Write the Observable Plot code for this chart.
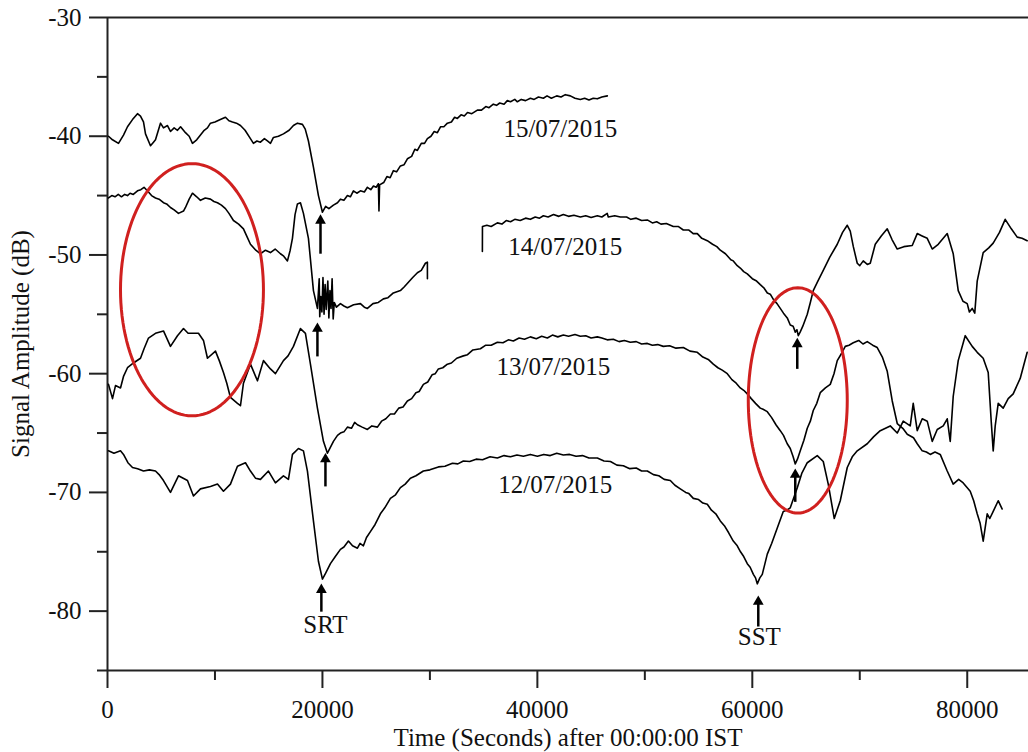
<!DOCTYPE html>
<html>
<head>
<meta charset="utf-8">
<script src="https://cdn.jsdelivr.net/npm/d3@7"></script>
<script src="https://cdn.jsdelivr.net/npm/@observablehq/plot@0.6"></script>
<style>
  html, body { margin: 0; padding: 0; background: #fff; }
</style>
</head>
<body>
<div id="chart"></div>
<script>
// ---- Data (time in seconds after 00:00:00 IST, amplitude in dB) ----
const series15 = [[93,-40.0],[465,-40.3],[1023,-40.6],[1488,-39.9],[1860,-39.2],[2326,-38.6],[2791,-38.1],[3070,-38.3],[3349,-38.8],[3535,-39.8],[4000,-40.8],[4279,-40.5],[4465,-40.3],[4930,-38.9],[5209,-39.3],[5581,-39.1],[5860,-39.6],[6200,-39.3],[6511,-39.5],[6800,-39.2],[7256,-39.7],[7600,-40.0],[7907,-40.6],[8300,-40.3],[8651,-39.9],[9000,-39.5],[9300,-39.3],[9581,-38.9],[10000,-38.8],[10500,-38.6],[10976,-38.4],[11300,-38.7],[11628,-38.8],[12000,-38.9],[12372,-39.1],[12800,-39.5],[13300,-40.2],[13581,-40.6],[13900,-40.4],[14232,-40.5],[14600,-40.2],[14883,-40.4],[15162,-40.6],[15441,-40.1],[15900,-40.0],[16372,-39.8],[16900,-39.5],[17300,-39.1],[17674,-38.9],[18139,-39.0],[18400,-39.4],[18697,-40.4],[19162,-42.6],[19627,-45.0],[20000,-46.4],[20300,-45.9],[20600,-46.1],[21023,-45.8],[21400,-45.6],[21674,-45.3],[22000,-45.4],[22325,-45.0],[22600,-45.1],[22883,-44.6],[23200,-44.8],[23534,-44.6],[23900,-44.7],[24185,-44.3],[24500,-44.5],[24744,-44.2],[25000,-44.3],[25208,-44.0],[25260,-46.3],[25320,-44.1],[25700,-43.9],[26000,-43.4],[26300,-43.5],[26604,-42.9],[26900,-43.0],[27255,-42.5],[27600,-42.4],[27906,-41.9],[28300,-41.7],[28600,-41.1],[28836,-41.2],[29200,-40.6],[29500,-40.6],[29766,-40.2],[30100,-40.0],[30400,-39.6],[30697,-39.7],[31000,-39.2],[31300,-39.2],[31627,-38.9],[32000,-38.8],[32300,-38.4],[32557,-38.5],[32900,-38.2],[33200,-38.3],[33500,-38.0],[33900,-38.1],[34417,-37.8],[34800,-37.8],[35200,-37.5],[35500,-37.6],[35900,-37.3],[36200,-37.4],[36500,-37.2],[36900,-37.3],[37200,-37.0],[37500,-37.1],[37900,-36.9],[38138,-37.1],[38500,-36.9],[38900,-37.0],[39348,-36.8],[39700,-36.9],[40100,-36.7],[40557,-36.8],[40900,-36.6],[41300,-36.8],[41800,-36.6],[42200,-36.7],[42600,-36.5],[43068,-36.6],[43500,-36.8],[43998,-36.9],[44400,-36.8],[44800,-36.95],[45200,-36.8],[45580,-36.85],[46000,-36.7],[46510,-36.6]];

const series14a = [[93,-45.2],[400,-45.0],[700,-45.1],[1000,-44.9],[1300,-45.1],[1600,-44.9],[1860,-45.0],[2100,-44.8],[2400,-44.9],[2791,-44.6],[3100,-44.5],[3400,-44.3],[3814,-44.7],[4100,-45.0],[4465,-45.2],[4800,-45.3],[5209,-45.6],[5500,-45.7],[5860,-46.0],[6200,-46.2],[6604,-46.5],[7070,-46.3],[7256,-46.0],[7600,-45.3],[7907,-44.8],[8300,-45.1],[8651,-45.4],[9100,-45.2],[9581,-45.3],[9900,-45.5],[10232,-45.6],[10600,-45.8],[10976,-46.1],[11300,-46.5],[11721,-47.1],[12200,-47.4],[12651,-47.8],[13000,-48.5],[13302,-49.1],[13800,-49.6],[14232,-49.9],[14700,-49.6],[15162,-49.8],[15600,-49.5],[16093,-49.9],[16400,-50.1],[16744,-50.5],[17000,-49.6],[17209,-48.6],[17450,-46.6],[17674,-45.7],[17953,-45.6],[18232,-46.5],[18697,-48.6],[19162,-53.0],[19534,-54.5],[19700,-52.0],[19750,-55.2],[19850,-53.5],[19950,-54.8],[20050,-51.9],[20150,-55.0],[20250,-52.5],[20350,-54.6],[20500,-52.2],[20600,-55.3],[20700,-53.0],[20800,-54.5],[20900,-52.0],[21000,-55.4],[21100,-54.0],[21300,-54.4],[21674,-54.1],[22000,-54.3],[22325,-54.45],[22900,-54.2],[23534,-54.1],[23900,-54.4],[24185,-54.5],[24700,-54.1],[25200,-54.0],[25674,-53.7],[26100,-53.6],[26600,-53.2],[27255,-53.0],[27600,-52.7],[28000,-52.3],[28400,-51.9],[28836,-51.5],[29200,-51.3],[29580,-50.7],[29766,-50.6],[29770,-52.0]];

const series14b = [[34883,-49.7],[34890,-47.6],[35300,-47.5],[35700,-47.6],[36278,-47.3],[36700,-47.4],[37100,-47.1],[37500,-47.2],[37900,-47.0],[38400,-47.1],[38900,-46.9],[39348,-47.0],[39800,-46.8],[40200,-46.9],[40557,-46.7],[41000,-46.8],[41500,-46.6],[42000,-46.75],[42417,-46.6],[42900,-46.75],[43400,-46.65],[44000,-46.8],[44500,-46.7],[45000,-46.85],[45580,-46.7],[46000,-46.8],[46500,-46.5],[46600,-46.8],[47200,-46.7],[47720,-46.8],[48300,-46.8],[48700,-47.0],[49200,-46.9],[49700,-47.1],[50231,-47.05],[50700,-47.3],[51100,-47.2],[51500,-47.4],[52000,-47.35],[52650,-47.6],[53100,-47.6],[53580,-47.9],[54100,-47.9],[54500,-48.2],[54881,-48.2],[55300,-48.6],[55812,-48.8],[56300,-49.1],[56700,-49.3],[57021,-49.6],[57500,-49.9],[58000,-50.4],[58230,-50.5],[58600,-50.9],[58882,-51.1],[59200,-51.4],[59533,-51.6],[60000,-52.0],[60400,-52.2],[60742,-52.5],[61100,-52.8],[61400,-53.2],[61672,-53.3],[62000,-53.8],[62300,-54.1],[62602,-54.5],[62900,-54.9],[63253,-55.3],[63532,-55.9],[63800,-56.0],[64000,-56.5],[64150,-56.3],[64277,-56.8],[64450,-56.5],[64700,-56.0],[65114,-55.0],[65400,-54.0],[65672,-53.0],[66100,-52.2],[66602,-51.3],[67200,-50.2],[67905,-49.1],[68400,-48.1],[68835,-47.5],[69114,-48.0],[69400,-49.3],[69765,-50.7],[70000,-50.9],[70323,-50.5],[70700,-50.8],[70975,-50.7],[71440,-49.1],[72000,-48.4],[72556,-47.8],[73000,-48.7],[73486,-49.5],[74100,-49.3],[74881,-49.2],[75346,-48.2],[75800,-48.4],[76277,-48.6],[76742,-49.5],[77300,-49.1],[78137,-48.2],[78696,-49.9],[79161,-53.0],[79600,-53.9],[79997,-54.1],[80200,-54.8],[80462,-54.5],[80700,-54.9],[80927,-52.2],[81485,-49.8],[82000,-49.4],[82416,-49.0],[83000,-48.1],[83532,-47.0],[84100,-47.8],[84648,-48.5],[85100,-48.6],[85578,-48.8]];

const series13 = [[93,-60.9],[465,-62.1],[744,-61.0],[1209,-61.2],[1500,-60.2],[1860,-59.5],[2418,-59.1],[3070,-58.7],[3400,-57.9],[3814,-57.0],[4465,-56.6],[5209,-56.4],[5860,-57.7],[6511,-56.8],[7070,-56.2],[7500,-56.6],[7907,-56.6],[8465,-56.6],[8930,-57.2],[9302,-58.7],[10046,-58.1],[10400,-58.9],[10790,-59.9],[11100,-60.8],[11441,-62.0],[12093,-62.5],[12372,-62.7],[12651,-60.8],[13302,-59.2],[13953,-60.6],[14511,-58.9],[15162,-59.6],[15627,-60.0],[16372,-58.9],[16800,-58.5],[17302,-57.7],[17953,-56.2],[18418,-56.6],[18883,-59.2],[19534,-62.9],[20093,-65.7],[20465,-66.7],[21023,-65.7],[21400,-65.2],[21674,-65.0],[22000,-64.9],[22325,-64.5],[22700,-64.6],[23000,-64.1],[23255,-64.3],[23700,-64.5],[24185,-64.7],[24600,-64.4],[25115,-64.5],[25500,-64.0],[25900,-63.8],[26325,-63.4],[26700,-63.4],[27100,-62.9],[27500,-62.8],[27906,-62.3],[28300,-62.1],[28700,-61.6],[29000,-61.5],[29394,-60.9],[29800,-60.7],[30200,-60.1],[30500,-60.0],[30790,-59.6],[31200,-59.5],[31627,-59.2],[32000,-59.1],[32500,-58.7],[33115,-58.5],[33500,-58.4],[34000,-58.0],[34697,-57.9],[35200,-57.6],[35700,-57.6],[36278,-57.35],[36800,-57.4],[37300,-57.15],[37766,-57.25],[38300,-57.0],[38800,-57.1],[39348,-56.9],[39900,-57.05],[40400,-56.85],[40929,-57.0],[41400,-56.75],[41900,-56.9],[42417,-56.75],[42900,-56.85],[43500,-56.7],[43998,-56.85],[44500,-56.8],[45000,-57.0],[45580,-56.9],[46000,-57.0],[46500,-57.15],[47068,-57.1],[47600,-57.3],[48100,-57.2],[48650,-57.35],[49200,-57.3],[49700,-57.5],[50231,-57.45],[50700,-57.6],[51200,-57.55],[51720,-57.7],[52300,-57.65],[52900,-57.85],[53580,-57.8],[54200,-58.1],[54881,-58.2],[55400,-58.6],[55900,-58.8],[56370,-59.2],[56800,-59.5],[57200,-59.7],[57672,-60.0],[58100,-60.5],[58500,-60.8],[58882,-61.2],[59200,-61.4],[59533,-61.7],[59900,-62.1],[60300,-62.5],[60742,-62.9],[61000,-63.0],[61393,-63.2],[61800,-63.7],[62200,-64.3],[62602,-64.8],[62900,-65.2],[63250,-65.9],[63532,-66.3],[63800,-67.0],[63997,-67.6],[64200,-67.2],[64463,-66.5],[64800,-65.6],[65114,-64.6],[65400,-64.0],[65672,-63.1],[66000,-62.5],[66323,-61.6],[66800,-61.2],[67253,-60.9],[67600,-60.0],[67905,-58.9],[68300,-58.3],[68649,-57.7],[69000,-57.6],[69393,-57.4],[69900,-57.2],[70300,-57.5],[70695,-57.3],[71200,-57.6],[71625,-57.8],[72100,-58.6],[72556,-59.8],[73021,-62.3],[73486,-64.2],[74000,-64.6],[74416,-65.1],[75000,-65.4],[75346,-65.9],[75812,-66.5],[76200,-66.6],[76556,-66.8],[77000,-66.6],[77486,-66.8],[78137,-68.2],[78696,-69.3],[79200,-68.9],[79625,-69.2],[80276,-69.9],[80600,-70.7],[80927,-71.8],[81200,-72.6],[81485,-74.1],[81858,-71.8],[82100,-72.2],[82416,-71.6],[82881,-70.7],[83253,-71.4]];

const series12 = [[93,-66.5],[600,-66.7],[1209,-66.5],[1488,-66.8],[1900,-67.5],[2326,-67.9],[2800,-68.0],[3349,-68.2],[3900,-68.1],[4465,-68.2],[4800,-68.5],[5209,-69.0],[5860,-70.0],[6604,-68.6],[7442,-69.0],[8000,-70.3],[8651,-69.7],[9581,-69.5],[10232,-69.3],[10790,-69.9],[11441,-69.3],[12093,-67.8],[12837,-67.5],[13300,-68.2],[13767,-68.8],[14232,-68.9],[14976,-68.2],[15627,-69.2],[16372,-68.6],[16837,-68.9],[17209,-66.8],[17767,-66.3],[18232,-66.5],[18604,-68.2],[19162,-72.4],[19627,-75.8],[20000,-77.3],[20300,-76.8],[20744,-76.0],[21200,-75.4],[21674,-74.8],[22000,-74.6],[22418,-74.1],[22800,-74.5],[23255,-74.7],[23500,-74.3],[23813,-74.5],[24100,-73.8],[24465,-73.3],[24900,-72.7],[25394,-71.8],[25800,-71.3],[26325,-70.5],[26800,-70.2],[27255,-69.6],[27700,-69.3],[28185,-68.8],[28700,-68.6],[29394,-68.2],[30000,-68.1],[30790,-67.85],[31400,-67.8],[32100,-67.55],[32600,-67.6],[33115,-67.35],[33700,-67.4],[34300,-67.2],[34900,-67.25],[35600,-67.0],[36278,-67.1],[36900,-66.9],[37500,-67.0],[38100,-66.85],[38700,-66.95],[39348,-66.8],[40000,-66.95],[40600,-66.8],[41200,-66.9],[41800,-66.7],[42417,-66.85],[43000,-66.8],[43600,-66.95],[44200,-66.9],[44800,-67.1],[45580,-67.1],[46200,-67.35],[46800,-67.4],[47400,-67.7],[47998,-67.75],[48600,-68.0],[49200,-67.95],[49700,-68.2],[50231,-68.2],[50800,-68.5],[51300,-68.6],[51800,-68.9],[52371,-69.0],[52800,-69.4],[53300,-69.7],[53800,-70.0],[54100,-70.1],[54510,-70.5],[55000,-70.6],[55400,-70.9],[55812,-71.0],[56200,-71.5],[56600,-71.8],[57021,-72.4],[57400,-72.8],[57800,-73.4],[58230,-74.1],[58600,-74.5],[58900,-75.0],[59200,-75.4],[59533,-76.0],[59800,-76.3],[60100,-76.9],[60300,-77.2],[60463,-77.7],[60700,-77.2],[60928,-76.9],[61393,-75.2],[61800,-74.3],[62323,-73.0],[62881,-71.6],[63200,-71.5],[63532,-71.3],[64184,-69.6],[64600,-68.4],[65114,-67.5],[66044,-66.9],[66602,-67.4],[67067,-69.3],[67626,-72.2],[68184,-70.7],[68835,-67.9],[69300,-67.0],[69765,-66.5],[70695,-65.9],[71300,-65.3],[71905,-64.8],[72835,-64.4],[73486,-65.0],[74044,-64.0],[74695,-64.4],[74974,-62.5],[75346,-64.8],[75812,-63.8],[76277,-64.0],[76742,-65.7],[77207,-64.7],[77765,-64.4],[78137,-63.8],[78417,-65.7],[78696,-61.9],[79161,-58.9],[79811,-56.8],[80462,-57.7],[80927,-58.2],[81485,-58.7],[81951,-59.9],[82230,-64.0],[82416,-66.5],[82602,-64.4],[82881,-62.5],[83346,-62.9],[83811,-62.1],[84276,-61.7],[84927,-60.4],[85578,-58.2]];

const dateLabels = ["15/07/2015", "14/07/2015", "13/07/2015", "12/07/2015"];
const dateLabelX = [42140, 42600, 41490, 41670];
const dateLabelY = [-39.36, -49.3, -59.4, -69.4];

const eventLabels = ["SRT", "SST"];
const eventLabelX = [20280, 60650];
const eventLabelY = [-81.2, -82.2];

const arrowX = [19820, 19534, 20280, 19900, 64184, 63997, 60556];
const arrowFrom = [-49.6, -58.25, -69.2, -79.75, -59.3, -70.5, -81.0];
const arrowTo = [-46.6, -55.7, -66.7, -77.7, -57.0, -68.0, -78.7];

const ellipseCX = [7860, 64230];
const ellipseCY = [-52.93, -62.25];
const ellipseRX = [6651, 4605];
const ellipseRY = [10.62, 9.49];

const xTicks = [0, 20000, 40000, 60000, 80000];
const xMinorTicks = [10000, 30000, 50000, 70000];
const yTicks = [-30, -40, -50, -60, -70, -80];
const yMinorTicks = [-35, -45, -55, -65, -75, -85];

const xTitle = "Time (Seconds) after 00:00:00 IST";
const yTitle = "Signal Amplitude (dB)";

// ---- Build tables ----
const toRows = (arr, id) => arr.map(([t, v]) => ({t, v, id}));
const lineRows = [
  ...toRows(series15, "15a"),
  ...toRows(series14a, "14a"),
  ...toRows(series14b, "14b"),
  ...toRows(series13, "13a"),
  ...toRows(series12, "12a")
];
const dateRows = dateLabels.map((s, i) => ({s, t: dateLabelX[i], v: dateLabelY[i]}));
const eventRows = eventLabels.map((s, i) => ({s, t: eventLabelX[i], v: eventLabelY[i]}));
const arrowRows = arrowX.map((t, i) => ({t, v1: arrowFrom[i], v2: arrowTo[i]}));
const ellipseRows = [];
ellipseCX.forEach((cx, k) => {
  for (let a = 0; a <= 360; a += 3) {
    const r = a * Math.PI / 180;
    ellipseRows.push({k, t: cx + ellipseRX[k] * Math.cos(r), v: ellipseCY[k] + ellipseRY[k] * Math.sin(r)});
  }
});

const FONT = "'Liberation Serif', 'Times New Roman', serif";
const AX = "#222";
const FS = 25;

const chart = Plot.plot({
  width: 1028,
  height: 752,
  marginLeft: 107,
  marginRight: 0,
  marginTop: 17,
  marginBottom: 82,
  style: {fontFamily: FONT, fontSize: FS + "px", background: "#fff", color: "#111"},
  x: {domain: [0, 85700], axis: null},
  y: {domain: [-85, -30], axis: null},
  marks: [
    // frame lines
    Plot.ruleY([-30, -85], {stroke: AX, strokeWidth: 2}),
    Plot.ruleX([0], {stroke: AX, strokeWidth: 2}),
    // axes
    Plot.axisY(yTicks, {label: null, tickSize: 18, tickPadding: 8, stroke: AX, strokeWidth: 2, fontSize: FS, fill: "#111", tickFormat: d => String(d)}),
    Plot.axisY(yMinorTicks, {label: null, tickSize: 10, tickFormat: () => "", stroke: AX, strokeWidth: 2}),
    Plot.axisX(xTicks, {label: null, tickSize: 18, tickPadding: 12, stroke: AX, strokeWidth: 2, fontSize: FS, fill: "#111", tickFormat: d => String(d)}),
    Plot.axisX(xMinorTicks, {label: null, tickSize: 10, tickFormat: () => "", stroke: AX, strokeWidth: 2}),
    Plot.text([xTitle], {frameAnchor: "bottom", dy: 67, fontSize: FS, fill: "#111", textAnchor: "middle", lineAnchor: "middle"}),
    Plot.text([yTitle], {frameAnchor: "left", dx: -87, rotate: -90, fontSize: FS, fill: "#111", textAnchor: "middle", lineAnchor: "middle"}),
    // data
    Plot.line(lineRows, {x: "t", y: "v", z: "id", stroke: "#000", strokeWidth: 1.6}),
    // ellipses
    Plot.line(ellipseRows, {x: "t", y: "v", z: "k", stroke: "#d0201f", strokeWidth: 3}),
    // arrows: stem + filled head
    Plot.ruleX(arrowRows, {x: "t", y1: "v1", y2: "v2", stroke: "#000", strokeWidth: 2.5, dy: 4}),
    Plot.dot(arrowRows, {x: "t", y: "v2", symbol: "triangle", r: 4, fill: "#000", stroke: "none", dy: 6}),
    // labels
    Plot.text(dateRows, {x: "t", y: "v", text: "s", fontSize: FS, fill: "#111", lineAnchor: "middle"}),
    Plot.text(eventRows, {x: "t", y: "v", text: "s", fontSize: FS, fill: "#111", lineAnchor: "middle"})
  ]
});
document.getElementById("chart").appendChild(chart);
</script>
</body>
</html>
